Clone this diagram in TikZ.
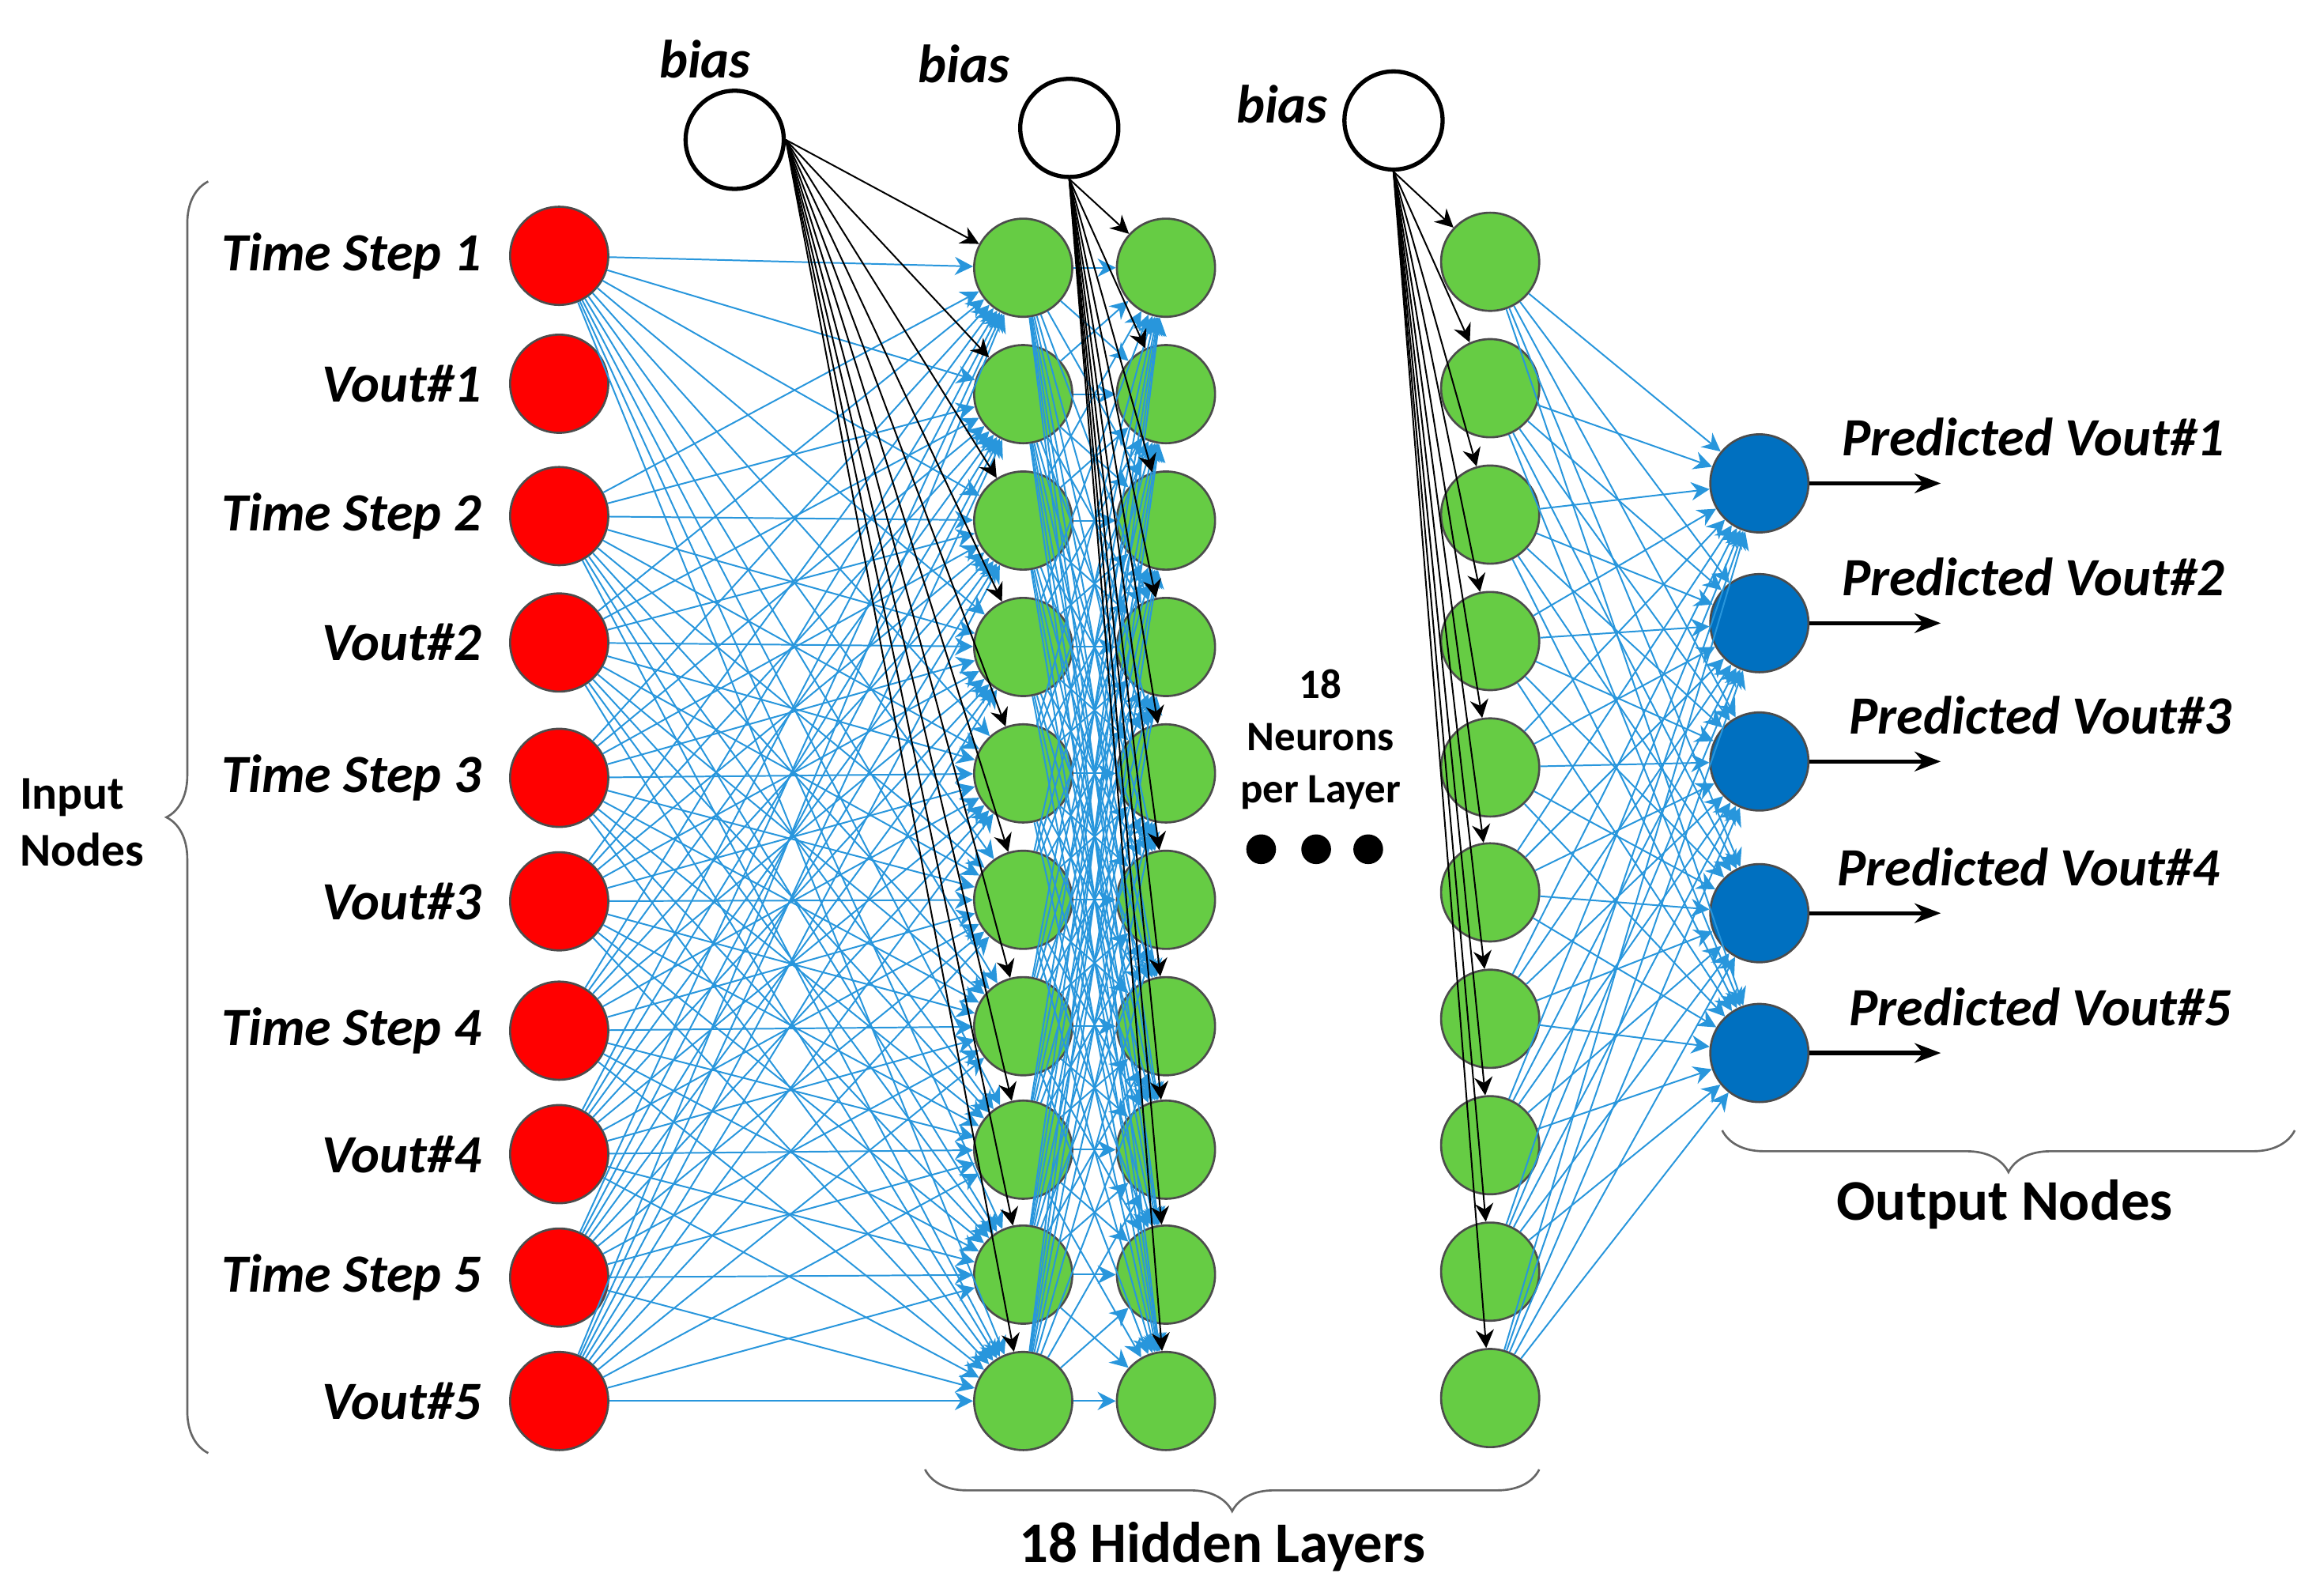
\documentclass[tikz,border=0pt]{standalone}
\usepackage{fontspec}
\setmainfont{Carlito}
\usetikzlibrary{decorations.pathreplacing,arrows.meta}
\definecolor{inred}{RGB}{255,0,0}
\definecolor{hidgreen}{RGB}{102,204,68}
\definecolor{outblue}{RGB}{0,112,192}
\definecolor{wireblue}{RGB}{40,150,220}
\tikzset{
    neuron/.style={circle, draw=black!70, minimum size=0.66cm, inner sep=0pt},
    innode/.style={neuron, fill=inred},
    hidnode/.style={neuron, fill=hidgreen},
    outnode/.style={neuron, fill=outblue},
    biasnode/.style={neuron, fill=white, draw=black, thick},
    wire/.style={wireblue, line width=0.3pt, -{Stealth[length=3.5pt,width=3.5pt]}},
    biaswire/.style={black, line width=0.3pt, -{Stealth[length=3.5pt,width=3.5pt]}},
    lbl/.style={font=\fontsize{10.3}{12}\selectfont\bfseries\itshape},
    txt/.style={font=\fontsize{8}{10}\selectfont\bfseries, align=center}
}
\begin{document}
\begin{tikzpicture}
    \useasboundingbox (0,0) rectangle (15.6,-10.73);
    % input layer
    \foreach \i/\y/\t in {1/1.72/Time Step 1, 2/2.58/Vout\#1, 3/3.47/Time Step 2, 4/4.32/Vout\#2,
        5/5.23/Time Step 3, 6/6.06/Vout\#3, 7/6.93/Time Step 4, 8/7.76/Vout\#4,
        9/8.59/Time Step 5, 10/9.42/Vout\#5}{
        \node[innode] (in\i) at (3.76,-\y) {};
        \node[lbl, anchor=east] (inl\i) at (3.36,-\y) {\t};
    }
    % hidden layers
    \foreach \i/\y in {1/1.80, 2/2.65, 3/3.50, 4/4.35, 5/5.20, 6/6.05, 7/6.90, 8/7.73, 9/8.57, 10/9.42}{
        \node[hidnode] (ha\i) at (6.88,-\y) {};
        \node[hidnode] (hb\i) at (7.84,-\y) {};
    }
    \foreach \i/\y in {1/1.76, 2/2.61, 3/3.46, 4/4.31, 5/5.16, 6/6.00, 7/6.85, 8/7.70, 9/8.55, 10/9.40}
        \node[hidnode] (hc\i) at (10.02,-\y) {};
    % output layer
    \foreach \i/\y/\x in {1/3.25/13.67, 2/4.19/13.67, 3/5.12/13.72, 4/6.14/13.64, 5/7.08/13.72}{
        \node[outnode] (out\i) at (11.83,-\y) {};
        \coordinate (oe\i) at (13.05,-\y);
        \node[lbl] (outl\i) at (\x,-\y+0.31) {Predicted Vout\#\i};
    }
    % bias nodes
    \node[biasnode] (b1) at (4.94,-0.94) {};
    \node[biasnode] (b2) at (7.19,-0.86) {};
    \node[biasnode] (b3) at (9.37,-0.81) {};
    \node[lbl] (bl1) at (4.74,-0.40) {bias};
    \node[lbl] (bl2) at (6.48,-0.43) {bias};
    \node[lbl] (bl3) at (8.62,-0.70) {bias};
    % connections
    \foreach \i in {1,3,4,5,6,7,8,9,10}
        \foreach \j in {1,...,10}
            \draw[wire] (in\i) -- (ha\j);
    \foreach \i in {1,...,10}
        \foreach \j in {1,...,10}
            \draw[wire] (ha\i) -- (hb\j);
    \foreach \i in {1,...,10}
        \foreach \j in {1,...,5}
            \draw[wire] (hc\i) -- (out\j);
    \foreach \j in {1,...,10}{
        \draw[biaswire] (b1.east) -- (ha\j);
        \draw[biaswire] (b2.south) -- (hb\j);
        \draw[biaswire] (b3.south) -- (hc\j);
    }
    \foreach \i in {1,...,5}
        \draw[black, thick, -{Stealth[length=5pt]}] (out\i.east) -- (oe\i);
    % annotations
    \node[txt] (neur) at (8.88,-4.97) {18\\Neurons\\per Layer};
    \foreach \k/\x in {1/8.48, 2/8.85, 3/9.20}
        \node[circle, fill=black, minimum size=0.2cm, inner sep=0pt] (dot\k) at (\x,-5.71) {};
    \draw[black!60, decorate, decoration={brace, amplitude=8pt}] (1.40,-9.77) -- (1.40,-1.22);
    \node[txt, align=left, font=\fontsize{9}{11}\selectfont\bfseries] (inputs) at (0.55,-5.53) {Input\\Nodes};
    \draw[black!60, decorate, decoration={brace, amplitude=8pt}] (10.35,-9.88) -- (6.22,-9.88);
    \node[txt, font=\fontsize{11}{13}\selectfont\bfseries] (hidden) at (8.22,-10.40) {18 Hidden Layers};
    \draw[black!60, decorate, decoration={brace, amplitude=8pt}] (15.43,-7.60) -- (11.58,-7.60);
    \node[txt, font=\fontsize{11}{13}\selectfont\bfseries] (outputs) at (13.48,-8.10) {Output Nodes};
\end{tikzpicture}
\end{document}
